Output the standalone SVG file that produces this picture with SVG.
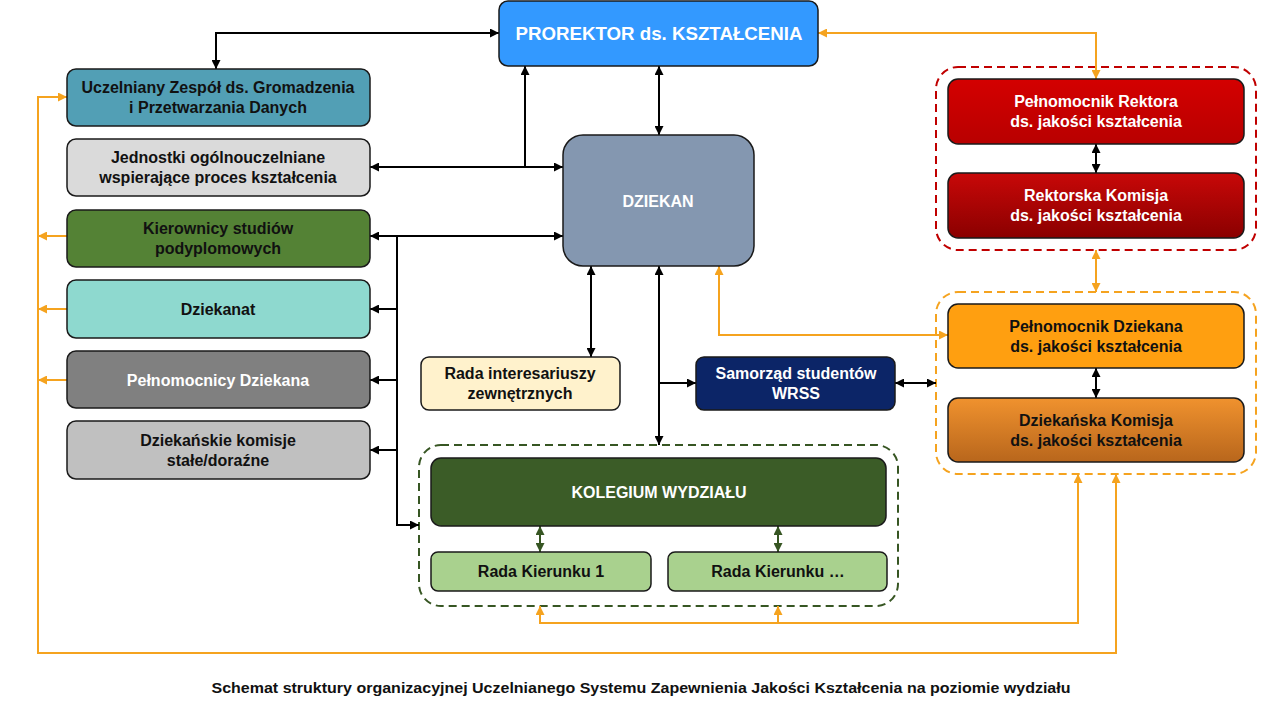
<svg xmlns="http://www.w3.org/2000/svg" width="1280" height="706" viewBox="0 0 1280 706">
<defs>
<style>
.box{stroke:#1a1a1a;stroke-width:1.5}
.t{font-family:"Liberation Sans",Arial,sans-serif;font-weight:bold;font-size:16px;text-anchor:middle}
.w{fill:#ffffff}
.k{fill:#111111}
.cb{fill:none;stroke:#000;stroke-width:2}
.cg{fill:none;stroke:#375623;stroke-width:2}
.co{fill:none;stroke:#f5a31f;stroke-width:2}
.dash{fill:none;stroke-width:2;stroke-dasharray:8 5}
</style>
<marker id="ab" viewBox="0 0 10 10" refX="10" refY="5" markerWidth="9" markerHeight="9" markerUnits="userSpaceOnUse" orient="auto-start-reverse"><path d="M0,0 L10,5 L0,10 z" fill="#000"/></marker>
<marker id="ag" viewBox="0 0 10 10" refX="10" refY="5" markerWidth="9" markerHeight="9" markerUnits="userSpaceOnUse" orient="auto-start-reverse"><path d="M0,0 L10,5 L0,10 z" fill="#375623"/></marker>
<marker id="ao" viewBox="0 0 10 10" refX="10" refY="5" markerWidth="9" markerHeight="9" markerUnits="userSpaceOnUse" orient="auto-start-reverse"><path d="M0,0 L10,5 L0,10 z" fill="#f5a31f"/></marker>
<linearGradient id="gRed2" x1="0" y1="0" x2="0" y2="1"><stop offset="0" stop-color="#c80808"/><stop offset="1" stop-color="#8a0000"/></linearGradient>
<linearGradient id="gRed1" x1="0" y1="0" x2="0" y2="1"><stop offset="0" stop-color="#d40000"/><stop offset="1" stop-color="#b80000"/></linearGradient>
<linearGradient id="gOr2" x1="0" y1="0" x2="0" y2="1"><stop offset="0" stop-color="#f0922e"/><stop offset="1" stop-color="#b8661c"/></linearGradient>
</defs>
<rect width="1280" height="706" fill="#ffffff"/>

<g id="groups">
<rect class="dash" x="936" y="67" width="320" height="183" rx="22" stroke="#c00000"/>
<rect class="dash" x="936" y="292" width="320" height="182" rx="22" stroke="#f5a31f"/>
<rect class="dash" x="419" y="445" width="479" height="161" rx="22" stroke="#375623"/>
</g>

<g id="connectors">
<path class="cb" d="M216,69 V33 H499" marker-start="url(#ab)" marker-end="url(#ab)"/>
<path class="cb" d="M525,66 V167" marker-start="url(#ab)"/>
<path class="cb" d="M370,167 H563" marker-start="url(#ab)" marker-end="url(#ab)"/>
<path class="cb" d="M659,66 V135" marker-start="url(#ab)" marker-end="url(#ab)"/>
<path class="cb" d="M370,236 H563" marker-start="url(#ab)" marker-end="url(#ab)"/>
<path class="cb" d="M397,236 V525 H419" marker-end="url(#ab)"/>
<path class="cb" d="M397,309 H370" marker-end="url(#ab)"/>
<path class="cb" d="M397,380 H370" marker-end="url(#ab)"/>
<path class="cb" d="M397,450 H370" marker-end="url(#ab)"/>
<path class="cb" d="M591,266 V357" marker-start="url(#ab)" marker-end="url(#ab)"/>
<path class="cb" d="M659,266 V445" marker-start="url(#ab)" marker-end="url(#ab)"/>
<path class="cb" d="M659,383 H696" marker-end="url(#ab)"/>
<path class="cb" d="M895,383 H936" marker-start="url(#ab)" marker-end="url(#ab)"/>
<path class="cb" d="M1096,144 V173" marker-start="url(#ab)" marker-end="url(#ab)"/>
<path class="cb" d="M1096,368 V398" marker-start="url(#ab)" marker-end="url(#ab)"/>
<path class="cg" d="M540,526 V552" marker-start="url(#ag)" marker-end="url(#ag)"/>
<path class="cg" d="M778,526 V552" marker-start="url(#ag)" marker-end="url(#ag)"/>
<path class="co" d="M818,33 H1096 V79" marker-start="url(#ao)" marker-end="url(#ao)"/>
<path class="co" d="M1096,250 V292" marker-start="url(#ao)" marker-end="url(#ao)"/>
<path class="co" d="M719,266 V335 H948" marker-start="url(#ao)" marker-end="url(#ao)"/>
<path class="co" d="M1078,474 V623 H540 V606" marker-start="url(#ao)" marker-end="url(#ao)"/>
<path class="co" d="M778,623 V606" marker-end="url(#ao)"/>
<path class="co" d="M1116,474 V653 H38 V97 H67" marker-start="url(#ao)" marker-end="url(#ao)"/>
<path class="co" d="M67,236 H38" marker-end="url(#ao)"/>
<path class="co" d="M67,309 H38" marker-end="url(#ao)"/>
<path class="co" d="M67,380 H38" marker-end="url(#ao)"/>
</g>

<g id="prorektor">
<rect class="box" x="499" y="1" width="319" height="65" rx="9" fill="#3399ff"/>
<text class="t w" x="659" y="40" style="font-size:18.7px">PROREKTOR ds. KSZTAŁCENIA</text>
</g>

<g id="uczelniany">
<rect class="box" x="67" y="69" width="303" height="57" rx="9" fill="#529fb5"/>
<text class="t k" x="218" y="93">Uczelniany Zespół ds. Gromadzenia</text>
<text class="t k" x="218" y="113">i Przetwarzania Danych</text>
</g>

<g id="jednostki">
<rect class="box" x="67" y="139" width="303" height="57" rx="9" fill="#dadada"/>
<text class="t k" x="218" y="163">Jednostki ogólnouczelniane</text>
<text class="t k" x="218" y="183">wspierające proces kształcenia</text>
</g>

<g id="kierownicy">
<rect class="box" x="67" y="210" width="303" height="57" rx="9" fill="#548235"/>
<text class="t k" x="218" y="234">Kierownicy studiów</text>
<text class="t k" x="218" y="254">podyplomowych</text>
</g>

<g id="dziekanat">
<rect class="box" x="67" y="280" width="303" height="58" rx="9" fill="#8ed9cf"/>
<text class="t k" x="218" y="315">Dziekanat</text>
</g>

<g id="pelnomocnicy">
<rect class="box" x="67" y="351" width="303" height="57" rx="9" fill="#808080"/>
<text class="t w" x="218" y="386">Pełnomocnicy Dziekana</text>
</g>

<g id="komisje">
<rect class="box" x="67" y="421" width="303" height="58" rx="9" fill="#c0c0c0"/>
<text class="t k" x="218" y="446">Dziekańskie komisje</text>
<text class="t k" x="218" y="466">stałe/doraźne</text>
</g>

<g id="dziekan">
<rect class="box" x="563" y="135" width="191" height="131" rx="20" fill="#8497b0"/>
<text class="t w" x="658" y="207" style="font-size:16px">DZIEKAN</text>
</g>

<g id="rada-interesariuszy">
<rect class="box" x="421" y="357" width="199" height="53" rx="8" fill="#fff2cc"/>
<text class="t k" x="520" y="379">Rada interesariuszy</text>
<text class="t k" x="520" y="399">zewnętrznych</text>
</g>

<g id="samorzad">
<rect class="box" x="696" y="357" width="199" height="53" rx="8" fill="#0c2567"/>
<text class="t w" x="796" y="379">Samorząd studentów</text>
<text class="t w" x="796" y="399">WRSS</text>
</g>

<g id="kolegium">
<rect class="box" x="431" y="458" width="455" height="68" rx="10" fill="#3b5c27"/>
<text class="t w" x="659" y="498">KOLEGIUM WYDZIAŁU</text>
</g>

<g id="rada-kierunku-1">
<rect class="box" x="431" y="552" width="220" height="39" rx="7" fill="#a9d18e"/>
<text class="t k" x="541" y="577">Rada Kierunku 1</text>
</g>

<g id="rada-kierunku-n">
<rect class="box" x="668" y="552" width="219" height="39" rx="7" fill="#a9d18e"/>
<text class="t k" x="778" y="577">Rada Kierunku …</text>
</g>

<g id="pelnomocnik-rektora">
<rect class="box" x="948" y="79" width="296" height="65" rx="10" fill="url(#gRed1)"/>
<text class="t w" x="1096" y="107">Pełnomocnik Rektora</text>
<text class="t w" x="1096" y="127">ds. jakości kształcenia</text>
</g>

<g id="rektorska-komisja">
<rect class="box" x="948" y="173" width="296" height="65" rx="10" fill="url(#gRed2)"/>
<text class="t w" x="1096" y="201">Rektorska Komisja</text>
<text class="t w" x="1096" y="221">ds. jakości kształcenia</text>
</g>

<g id="pelnomocnik-dziekana">
<rect class="box" x="948" y="304" width="296" height="64" rx="10" fill="#ff9f10"/>
<text class="t k" x="1096" y="332">Pełnomocnik Dziekana</text>
<text class="t k" x="1096" y="352">ds. jakości kształcenia</text>
</g>

<g id="dziekanska-komisja">
<rect class="box" x="948" y="398" width="296" height="64" rx="10" fill="url(#gOr2)"/>
<text class="t k" x="1096" y="426">Dziekańska Komisja</text>
<text class="t k" x="1096" y="446">ds. jakości kształcenia</text>
</g>

<g id="caption">
<text class="t k" x="641" y="693" style="font-size:15.5px" textLength="859" lengthAdjust="spacingAndGlyphs">Schemat struktury organizacyjnej Uczelnianego Systemu Zapewnienia Jakości Kształcenia na poziomie wydziału</text>
</g>
</svg>
